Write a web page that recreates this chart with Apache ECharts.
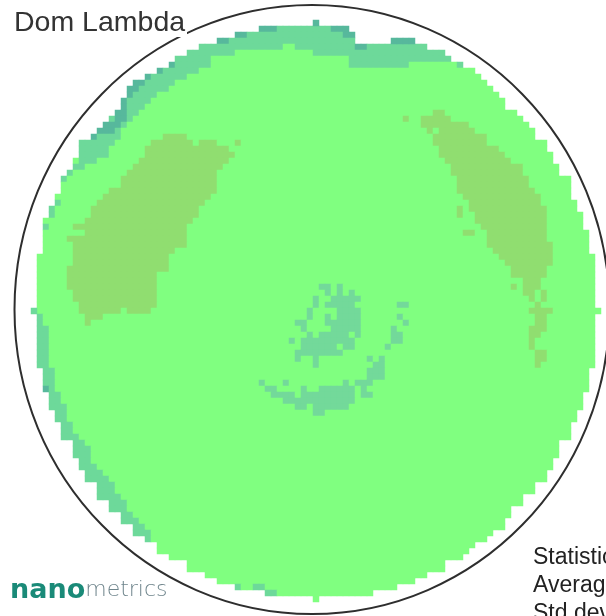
<!DOCTYPE html>
<html><head><meta charset="utf-8">
<style>html,body{margin:0;padding:0;background:#fff;overflow:hidden}#c{width:606px;height:616px;filter:blur(0.4px)}</style>
<script src="https://cdn.jsdelivr.net/npm/echarts@6/dist/echarts.min.js"></script>
</head><body><div id="c"></div>
<script>
const columnCount = 100;
const rowCount = 102;
const firstDiscRow = 4;
const discLeft = [43,39,36,33,31,29,28,26,24,22,21,21,20,20,19,18,17,16,15,13,13,13,12,12,11,10,10,10,9,9,8,8,7,7,7,7,7,7,
 6,6,6,6,6,6,6,6,6,6,6,6,6,6,6,6,6,6,6,7,7,7,7,8,8,8,9,9,10,10,10,12,12,12,13,13,14,14,16,16,16,18,18,20,20,22,22,24,26,26,28,31,31,34,36,39,44];
const discRight = [58,59,59,71,74,75,77,79,80,81,82,83,84,84,86,87,88,89,89,91,91,92,92,93,93,95,95,95,95,96,96,97,97,97,98,98,98,98,
 99,99,99,99,99,99,99,99,99,99,99,99,99,99,99,99,99,99,99,98,98,98,98,97,97,97,96,96,95,95,95,93,93,93,92,92,91,91,89,89,87,87,85,85,84,84,82,81,79,78,77,74,74,71,69,66,62];
const extraBase = [[51,99,100],[99,52,53]];
const rimBand = [[4,43,58],[5,39,59],[6,36,59],[6,65,69],[7,33,47],[7,49,71],[8,31,39],[8,52,74],[9,29,35],[9,58,75],[10,28,35],[10,58,68],[10,76,77],
 [11,26,33],[12,24,31],[13,22,29],[14,21,28],[15,21,26],[16,20,25],[17,20,24],[18,19,23],[19,18,22],[20,17,21],[21,16,20],[22,15,20],[23,13,19],[24,13,18],[25,13,18],[26,13,16],[27,12,14],[28,11,12],
 [29,10,11],[33,9,10],[34,8,9],[35,8,9],[37,7,8],[51,5,6],
 [52,6,7],[53,6,7],[54,6,8],[55,6,8],[56,6,8],[57,6,8],[58,6,8],[59,6,8],[60,6,8],[61,7,9],[62,7,9],[63,7,9],[64,7,9],[65,8,10],[66,8,10],[67,8,11],[68,9,11],[69,9,11],[70,10,12],[71,10,12],[72,10,13],[73,12,14],[74,12,15],[75,12,15],[76,13,15],[77,13,16],[78,14,17],[79,14,18],[80,16,19],[81,16,19],[82,16,20],[83,18,21],[84,18,21],[85,20,22],[86,20,23],[87,22,24],[88,22,25],[89,24,25],[97,39,40],[97,42,44],[98,44,46]];
const centerBlob = [[47,53,55],[47,56,57],[48,54,55],[48,56,57],[48,58,59],[49,52,53],[49,55,60],[50,52,53],[50,54,59],[50,66,68],[51,51,52],[51,56,60],[52,51,52],[52,54,55],[52,56,60],[52,66,67],[53,49,51],[53,54,60],[53,67,68],[54,50,51],[54,55,60],[54,65,66],[55,51,52],[55,53,58],[55,59,60],[55,65,67],[56,48,49],[56,50,59],[56,65,67],[57,50,56],[57,57,59],[57,64,65],[58,49,57],[59,49,50],[59,52,53],[59,61,62],[59,63,64],[60,52,53],[60,62,64],[61,61,64],[62,61,64],[63,43,44],[63,47,48],[63,57,58],[63,59,62],[64,44,46],[64,50,51],[64,53,59],[64,60,61],[65,45,49],[65,50,59],[65,60,62],[66,47,59],[67,49,51],[67,52,58],[68,52,54]];
const leftOlive = [[22,27,29],[22,29,31],[23,25,32],[23,33,36],[23,39,40],[24,24,38],[25,24,39],[26,23,38],[27,22,37],[28,21,36],[29,20,36],[30,20,36],[31,18,36],[32,17,35],[33,16,34],[34,15,33],[35,15,33],[36,14,32],[37,12,31],[38,14,31],[39,11,31],[40,12,31],[41,12,29],[42,12,28],[43,12,28],[44,11,28],[45,11,26],[46,11,26],[47,11,26],[48,12,26],[49,12,26],[50,13,26],[51,13,20],[51,21,25],[52,14,17],[53,14,15]];
const rightOlive = [[18,72,74],[19,67,68],[19,70,75],[20,70,78],[21,71,72],[21,73,79],[22,72,81],[23,72,81],[24,73,83],[25,73,84],[26,74,85],[27,75,87],[28,75,87],[29,76,88],[30,76,88],[31,76,89],[32,77,90],[33,78,90],[34,76,77],[34,78,91],[35,76,77],[35,79,91],[36,79,91],[37,80,91],[38,77,79],[38,81,91],[39,81,91],[40,81,92],[41,82,92],[42,83,92],[43,84,92],[44,85,91],[45,85,91],[46,87,90],[47,85,86],[47,87,90],[48,87,89],[48,90,91],[49,88,89],[49,90,91],[50,89,90],[51,88,92],[52,89,91],[53,89,91],[54,88,91],[55,88,90],[56,88,89],[57,88,89],[58,89,91],[59,89,91],[60,89,90]];
const rimDark = [[3,52,53],[4,43,46],[4,55,58],[5,39,41],[5,57,59],[6,36,38],[6,65,69],[7,59,61],[10,28,29],[11,26,27],[12,24,25],[13,22,24],[14,21,23],[15,21,22],[16,20,21],[17,20,21],[18,19,21],[19,19,21],[20,17,20],[21,16,19],[22,15,16],[64,7,8]];
const levelColors = ['#80FF80','#6DD99A','#73D99A','#90DE70','#57B89C'];
const titleText = 'Dom Lambda';
const statLabels = ['Statistics','Average','Std dev'];

const colIds = Array.from({length: columnCount}, (_, i) => i);
const rowIds = Array.from({length: rowCount}, (_, i) => i);
const cells = new Map();
const paint = (r, a, b, lvl) => { for (let c = a; c < b; c++) cells.set(r + ':' + c, [c, r, lvl]); };
discLeft.forEach((a, i) => paint(firstDiscRow + i, a, discRight[i], 0));
extraBase.forEach(s => paint(s[0], s[1], s[2], 0));
rimBand.forEach(s => paint(s[0], s[1], s[2], 1));
centerBlob.forEach(s => paint(s[0], s[1], s[2], 2));
leftOlive.forEach(s => paint(s[0], s[1], s[2], 3));
rightOlive.forEach(s => paint(s[0], s[1], s[2], 3));
rimDark.forEach(s => paint(s[0], s[1], s[2], 4));

const chart = echarts.init(document.getElementById('c'), null, {renderer: 'canvas'});
chart.setOption({
  animation: false,
  backgroundColor: '#fff',
  grid: {left: 1, top: 2, width: 600, height: 612, containLabel: false},
  xAxis: {type: 'category', data: colIds, show: false},
  yAxis: {type: 'category', data: rowIds, inverse: true, show: false},
  visualMap: {type: 'piecewise', show: false, dimension: 2, seriesIndex: 0,
    pieces: levelColors.map((color, i) => ({value: i, color}))},
  title: {text: titleText, left: 9, top: 4, z: 20,
    textStyle: {fontFamily: 'Liberation Sans', fontSize: 28.5, fontWeight: 'normal', color: '#333'}},
  series: [{type: 'heatmap', data: [...cells.values()], progressive: 0,
    itemStyle: {borderWidth: 0}, emphasis: {disabled: true}}],
  graphic: [
    {type: 'ellipse', z: 5, silent: true, shape: {cx: 312, cy: 309.5, rx: 297.5, ry: 304.5},
     style: {fill: null, stroke: '#2E2E2E', lineWidth: 2}},
    {type: 'rect', z: 6, silent: true, shape: {x: 0, y: 0, width: 187, height: 37}, style: {fill: '#fff'}},
    {type: 'text', z: 7, silent: true, x: 10, y: 577, style: {
      text: '{a|nano}{b|metrics}',
      rich: {a: {fontFamily: 'DejaVu Sans', fontWeight: 'bold', fontSize: 27, fill: '#1A8A78', color: '#1A8A78'},
             b: {fontFamily: 'DejaVu Sans', fontWeight: 200, fontSize: 22, fill: '#6F858C', color: '#6F858C'}}}},
    {type: 'text', z: 7, silent: true, x: 533, y: 546, style: {text: statLabels[0], fontFamily: 'Liberation Sans', fontSize: 23, fill: '#222'}},
    {type: 'text', z: 7, silent: true, x: 533, y: 574, style: {text: statLabels[1], fontFamily: 'Liberation Sans', fontSize: 23, fill: '#222'}},
    {type: 'text', z: 7, silent: true, x: 533, y: 602, style: {text: statLabels[2], fontFamily: 'Liberation Sans', fontSize: 23, fill: '#222'}}
  ]
});
</script></body></html>
